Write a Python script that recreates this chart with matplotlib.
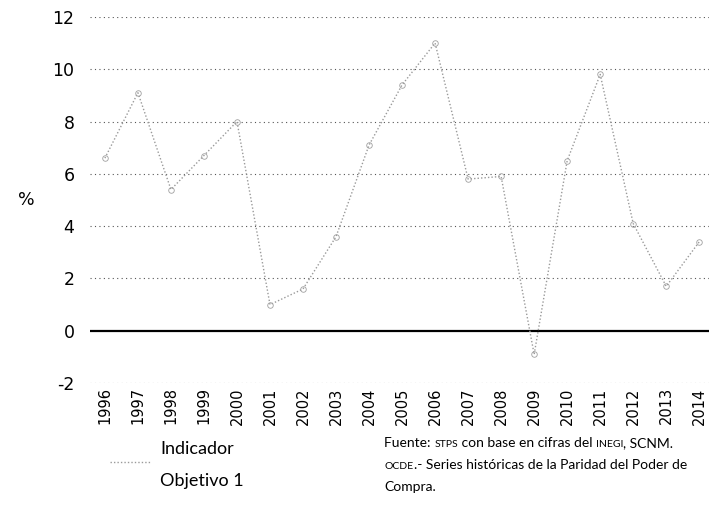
import matplotlib.pyplot as plt

# annual values of the indicator (%)
years = list(range(1996, 2015))
values = [6.6, 9.1, 5.4, 6.7, 8.0, 1.0, 1.6, 3.6, 7.1, 9.4, 11.0, 5.8, 5.9, -0.9, 6.5, 9.8, 4.1, 1.7, 3.4]
y_ticks = [-2, 0, 2, 4, 6, 8, 10, 12]

fig = plt.figure(figsize=(7.12, 5.27), dpi=100)
ax = fig.add_axes([0.126, 0.273, 0.87, 0.695])

# dotted grid, solid zero line
for t in y_ticks:
    if t == 0:
        ax.axhline(t, color="black", lw=1.6, zorder=1)
    else:
        ax.axhline(t, color="#555555", lw=0.8, ls=(0, (1, 3)), zorder=1)

ax.plot(years, values, color="#9a9a9a", lw=1.0, ls=(0, (1, 1.5)),
        marker="o", ms=4, mfc="none", mec="#a0a0a0", mew=0.6, zorder=2)

ax.set_xlim(1995.54, 2014.3)
ax.set_ylim(-2, 12)
ax.set_xticks(years)
ax.set_xticklabels([str(y) for y in years], rotation=90, fontsize=10.5)
ax.set_yticks(y_ticks)
ax.set_yticklabels([str(t) for t in y_ticks], fontsize=12.5)
ax.tick_params(axis="x", length=0, pad=3)
ax.tick_params(axis="y", length=0, pad=11)
for s in ax.spines.values():
    s.set_visible(False)

fig.text(0.025, 0.62, "%", fontsize=12.5, va="center")

# legend
fig.lines.append(plt.Line2D([0.155, 0.21], [0.123, 0.123], transform=fig.transFigure,
                            color="#9a9a9a", lw=1.0, ls=(0, (1, 1.5))))
fig.text(0.225, 0.148, "Indicador", fontsize=13, family="Lato", va="center")
fig.text(0.225, 0.088, "Objetivo 1", fontsize=13, family="Lato", va="center")

# source note; acronyms set in smaller capitals
fig.canvas.draw()
renderer = fig.canvas.get_renderer()


def runs(x, y, parts):
    for txt, size in parts:
        t = fig.text(x, y, txt, fontsize=size, family="Lato", va="baseline")
        w = t.get_window_extent(renderer).width
        x += w / fig.bbox.width


big, small = 10, 7.5
runs(0.54, 0.152, [("Fuente: ", big), ("STPS", small), (" con base en cifras del ", big),
                   ("INEGI", small), (", SCNM.", big)])
runs(0.54, 0.110, [("OCDE", small), (".- Series históricas de la Paridad del Poder de", big)])
runs(0.54, 0.068, [("Compra.", big)])

fig.savefig("out.png", dpi=100)
